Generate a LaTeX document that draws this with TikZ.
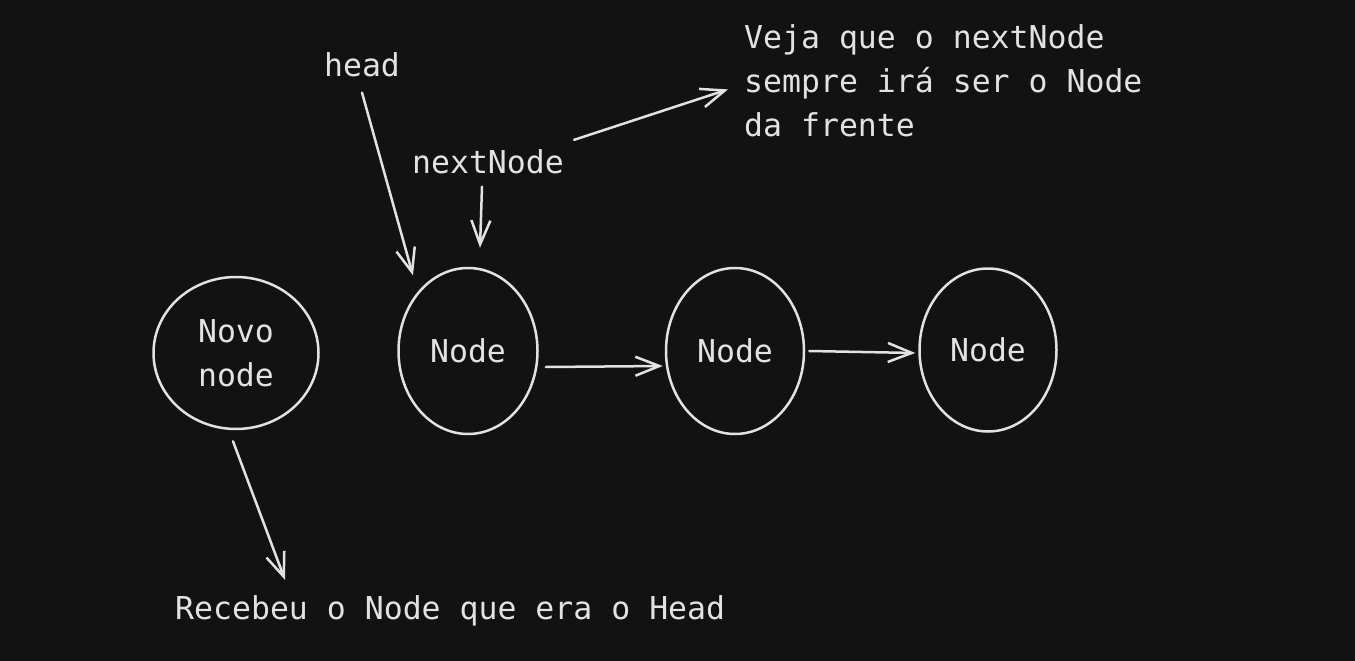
\documentclass[tikz,border=0pt]{standalone}
\usepackage{fontspec}
\setmonofont{DejaVu Sans Mono}
\usetikzlibrary{shapes.geometric,arrows.meta}
\definecolor{bg}{HTML}{121212}
\definecolor{ink}{HTML}{E2E2E2}
\tikzset{
  ink/.style={draw=ink, line width=2.5pt},
  circ/.style={ink, ellipse, inner sep=0pt, text=ink, font=\hand, align=center},
  lbl/.style={text=ink, font=\hand, inner sep=0pt},
  arr/.style={draw=ink, line width=2.5pt, line cap=round,
    -{Straight Barb[length=24pt,width=19pt,line width=2.5pt]}},
}
\newcommand{\hand}{\ttfamily\fontsize{31.5}{44}\selectfont}
\begin{document}
\begin{tikzpicture}[x=1pt,y=-1pt]
\fill[bg] (0,0) rectangle (1355,661);
\useasboundingbox (0,0) rectangle (1355,661);
% circles
\node[circ, minimum width=165pt, minimum height=152pt] (novo) at (236,353) {Novo\\node};
\node[circ, minimum width=139pt, minimum height=166pt] (n1) at (468,351) {Node};
\node[circ, minimum width=138pt, minimum height=166pt] (n2) at (735,351) {Node};
\node[circ, minimum width=137pt, minimum height=163pt] (n3) at (988,350) {Node};
% labels
\node[lbl, anchor=base] (head) at (362,77) {head};
\node[lbl, anchor=base] (next) at (488,173) {nextNode};
\node[lbl, anchor=north west, align=left] (veja) at (744,24)
  {Veja que o nextNode\\sempre irá ser o Node\\da frente};
\node[lbl, anchor=base west] (rec) at (175,619) {Recebeu o Node que era o Head};
% connectors
\draw[arr] ([xshift=7pt,yshift=-16pt]n1.east) -- ([xshift=-2pt,yshift=-15pt]n2.west);
\draw[arr] ([xshift=4pt]n2.east) -- ([xshift=-3pt,yshift=-3pt]n3.west);
\draw[arr] ([yshift=-15pt]head.south) -- ([xshift=-5pt,yshift=16pt]n1.north west);
\draw[arr] ([xshift=-6pt,yshift=-13pt]next.south) -- ([xshift=12pt,yshift=19pt]n1.north);
\draw[arr] ([xshift=10pt,yshift=9pt]next.north east) -- ([xshift=-16pt,yshift=-9pt]veja.west);
\draw[arr] ([xshift=-3pt,yshift=-11pt]novo.south) -- ([xshift=110pt,yshift=15pt]rec.north west);
\end{tikzpicture}
\end{document}
